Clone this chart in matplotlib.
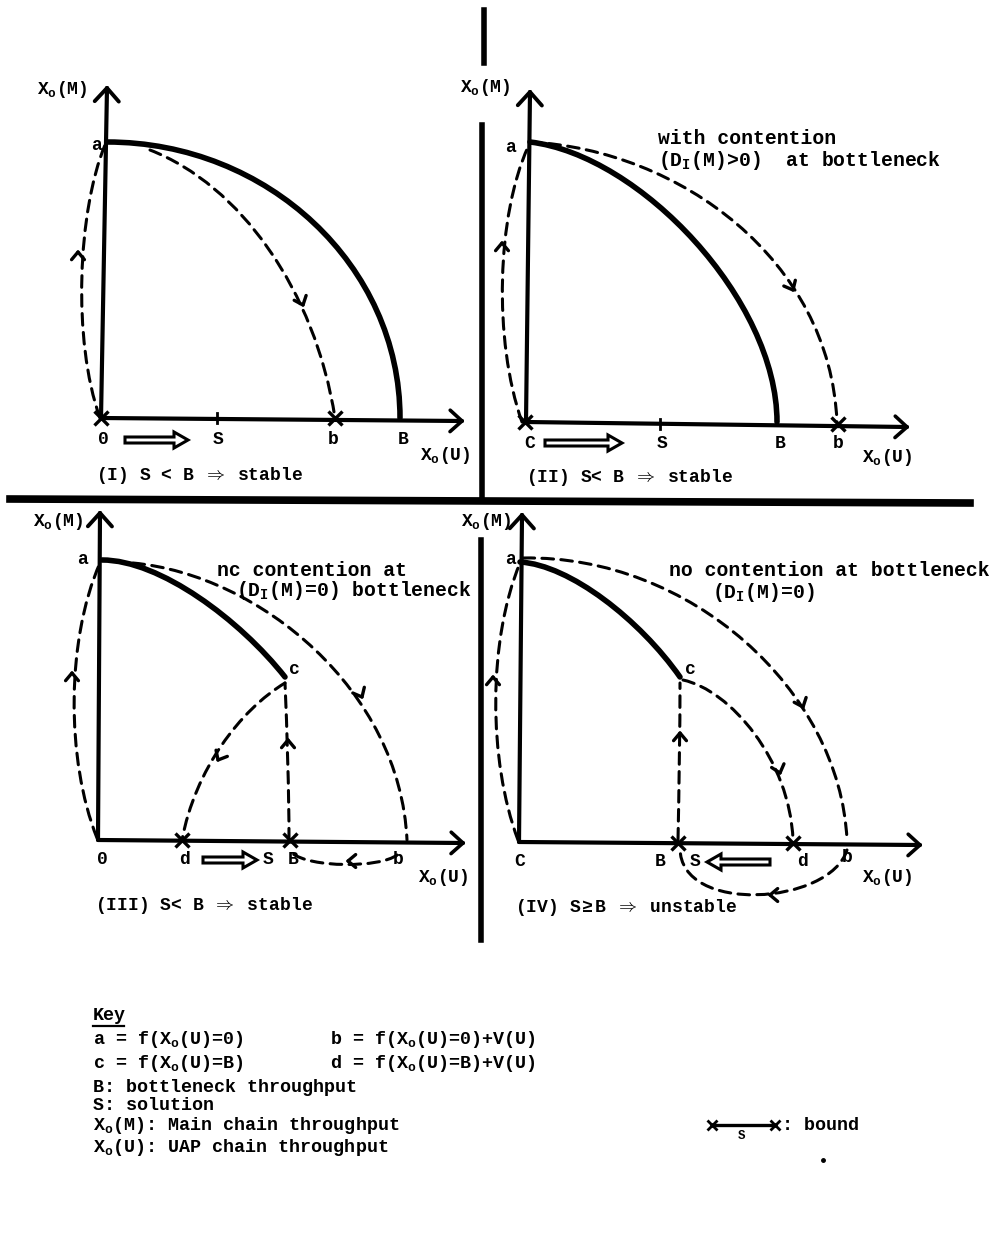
import numpy as np
import matplotlib
matplotlib.use('Agg')
import matplotlib.pyplot as plt
import matplotlib.patches as mpatches
from matplotlib.path import Path

plt.rcParams['font.family'] = ['Liberation Mono', 'DejaVu Sans Mono']
plt.rcParams['font.weight'] = 'bold'
plt.rcParams['mathtext.fontset'] = 'custom'
plt.rcParams['mathtext.rm'] = 'Liberation Mono:bold'
plt.rcParams['mathtext.it'] = 'Liberation Mono:bold'
plt.rcParams['mathtext.bf'] = 'Liberation Mono:bold'

# the page is laid out in scan pixels, x to the right, y downwards
# quadrant axes: origin, tip of x axis, tip of y axis
origins = [(101, 418), (526, 422), (98, 840), (519, 842)]
x_tips = [(462, 421), (907, 427), (463, 843), (920, 845)]
y_tips = [(107, 88), (530, 92), (100, 513), (522, 515)]

# solid frontier (cubic bezier control points)
frontier_I = [(107, 142), (268, 142), (400, 266), (400, 418)]
frontier_II = [(530, 142), (640, 155), (777, 300), (777, 422)]
frontier_III = [(102, 560), (160, 560), (240, 620), (285, 677)]
frontier_IV = [(520, 562), (570, 565), (640, 620), (680, 677)]

# dashed trajectories
arc_I = [(100, 418), (72, 340), (78, 210), (105, 145)]
arc_II = [(522, 422), (493, 340), (497, 215), (528, 147)]
arc_III = [(97, 838), (66, 760), (66, 640), (100, 563)]
arc_IV = [(518, 840), (488, 760), (488, 640), (520, 563)]
outer_I = [(150, 150), (240, 185), (315, 290), (335, 418)]
outer_II = [(530, 142), (680, 150), (830, 260), (837, 422)]
outer_III = [(133, 563), (260, 575), (400, 690), (407, 840)]
outer_IV = [(523, 558), (690, 555), (840, 690), (847, 840)]
back_III = [(397, 855), (380, 868), (310, 868), (292, 853)]
back_IV = [(847, 850), (830, 905), (680, 915), (680, 848)]
drop_III = [(285, 683), (240, 710), (195, 770), (182, 840)]
drop_IV = [(683, 680), (730, 690), (790, 760), (793, 840)]
rise_III = [(289, 840), (289, 790), (287, 730), (285, 683)]
rise_IV = [(678, 840), (679, 790), (680, 730), (680, 683)]

# small arrowheads on the dashed paths: x, y, dx, dy
heads_x = [78, 303, 502, 793, 72, 362, 218, 288, 348, 493, 803, 780, 680, 770]
heads_y = [252, 305, 243, 290, 673, 697, 760, 740, 861, 677, 707, 773, 733, 895]
heads_dx = [0, 0.4, 0, 0.5, 0, 0.5, -0.55, 0, -1, 0, 0.4, 0.3, 0, -1]
heads_dy = [-1, 1, -1, 1, -1, 1, 1, -1, 0, -1, 1, 1, -1, 0]

# crosses on the axes
cross_x = [101, 335, 525, 838, 182, 290, 678, 793]
cross_y = [418, 418, 422, 424, 840, 840, 843, 843]

# hollow double arrows: start x, end x, y
dbl_x0 = [125, 545, 203, 770]
dbl_x1 = [188, 622, 257, 707]
dbl_y = [440, 443, 860, 862]

# axis labels along x
tick_text = ['0', 'S', 'b', 'B', 'C', 'S', 'B', 'b',
             '0', 'd', 'S', 'B', 'b', 'C', 'B', 'S', 'd', 'b']
tick_x = [103, 218, 333, 403, 530, 662, 780, 838,
          102, 185, 268, 293, 398, 520, 660, 695, 802, 847]
tick_y = [440, 440, 440, 440, 443, 443, 443, 443,
          860, 860, 860, 860, 860, 862, 862, 862, 862, 857]

captions = [r'(I) S < B $\Rightarrow$ stable', r'(II) S< B $\Rightarrow$ stable',
            r'(III) S< B $\Rightarrow$ stable', r'(IV) S$\geq$B $\Rightarrow$ unstable']
caption_x = [96, 526, 95, 515]
caption_y = [475, 477, 905, 907]

key_lines = [r'a = f(X$_{\rm o}$(U)=0)', r'c = f(X$_{\rm o}$(U)=B)',
             'B: bottleneck throughput', 'S: solution',
             r'X$_{\rm o}$(M): Main chain throughput',
             r'X$_{\rm o}$(U): UAP chain throughput']
key_y = [1040, 1063, 1087, 1105, 1125, 1148]
key_right = [r'b = f(X$_{\rm o}$(U)=0)+V(U)', r'd = f(X$_{\rm o}$(U)=B)+V(U)']

fig = plt.figure(figsize=(9.93, 12.54), dpi=100)
ax = fig.add_axes([0, 0, 1, 1])
ax.set_xlim(0, 993)
ax.set_ylim(1254, 0)
ax.axis('off')

DASH = (0, (3.8, 2.4))


def bez(pts, lw=2.2, ls=DASH):
    codes = [Path.MOVETO, Path.CURVE4, Path.CURVE4, Path.CURVE4]
    ax.add_patch(mpatches.PathPatch(Path(pts, codes), fill=False,
                                    lw=lw, ls=ls, ec='black', capstyle='round'))


def chevron(x, y, dx, dy, size=10, ang=40, lw=2.4):
    d = np.array([dx, dy], float)
    d = d / np.hypot(*d)
    for s in (1, -1):
        a = np.radians(s * ang)
        r = np.array([[np.cos(a), -np.sin(a)], [np.sin(a), np.cos(a)]])
        w = r @ (-d) * size
        ax.plot([x, x + w[0]], [y, y + w[1]], color='black', lw=lw,
                solid_capstyle='round')


# page dividers
ax.plot([484, 484], [10, 63], color='black', lw=4)
ax.plot([482, 482], [125, 500], color='black', lw=4)
ax.plot([481, 481], [540, 940], color='black', lw=4)
ax.plot([10, 970], [499, 503], color='black', lw=5.5)

for (ox, oy), (xx, xy), (yx, yy) in zip(origins, x_tips, y_tips):
    ax.plot([ox, xx], [oy, xy], color='black', lw=3, solid_capstyle='round')
    ax.plot([ox, yx], [oy, yy], color='black', lw=3, solid_capstyle='round')
    chevron(xx, xy, xx - ox, xy - oy, size=16, ang=42, lw=2.6)
    chevron(yx, yy, yx - ox, yy - oy, size=18, ang=42, lw=2.8)

for f in [frontier_I, frontier_II, frontier_III, frontier_IV]:
    bez(f, lw=4, ls='-')

for p in [arc_I, arc_II, arc_III, arc_IV, outer_I, outer_II, outer_III, outer_IV,
          back_III, back_IV, drop_III, drop_IV, rise_III, rise_IV]:
    bez(p)

for x, y, dx, dy in zip(heads_x, heads_y, heads_dx, heads_dy):
    chevron(x, y, dx, dy)

ax.plot(cross_x, cross_y, ls='none', marker='x', ms=10, mew=2.4, color='black')
# S ticks on the axes of I and II
ax.plot([217, 217], [413, 423], color='black', lw=2)
ax.plot([660, 660], [419, 429], color='black', lw=2)

for x0, x1, y in zip(dbl_x0, dbl_x1, dbl_y):
    ax.add_patch(mpatches.FancyArrow(x0, y, x1 - x0, 0, width=6, head_width=16,
                                     head_length=14, length_includes_head=True,
                                     fc='white', ec='black', lw=2.2))

for t, x, y in zip(tick_text, tick_x, tick_y):
    ax.text(x, y, t, ha='center', va='center', fontsize=13)

# point labels a and c
for t, x, y in [('a', 97, 145), ('a', 510, 148), ('a', 82, 559), ('a', 510, 560),
                ('c', 294, 670), ('c', 690, 670)]:
    ax.text(x, y, t, ha='center', va='center', fontsize=13)

for x, y in [(62, 90), (485, 88), (58, 522), (486, 522)]:
    ax.text(x, y, r'X$_{\rm o}$(M)', ha='center', va='center', fontsize=13)
for x, y in [(445, 455), (887, 457), (443, 877), (887, 877)]:
    ax.text(x, y, r'X$_{\rm o}$(U)', ha='center', va='center', fontsize=13)

for t, x, y in zip(captions, caption_x, caption_y):
    ax.text(x, y, t, ha='left', va='center', fontsize=13)

# annotations
ax.text(658, 138, 'with contention', ha='left', va='center', fontsize=14.2)
ax.text(658, 160, r'(D$_{\rm I}$(M)>0)  at bottleneck', ha='left', va='center',
        fontsize=14.2)
ax.text(217, 570, 'nc contention at', ha='left', va='center', fontsize=14.2)
ax.text(236, 591, r'(D$_{\rm I}$(M)=0) bottleneck', ha='left', va='center',
        fontsize=14.2)
ax.text(669, 571, 'no contention at bottleneck', ha='left', va='center',
        fontsize=14.2)
ax.text(712, 593, r'(D$_{\rm I}$(M)=0)', ha='left', va='center', fontsize=14.2)

# key
ax.text(93, 1015, 'Key', ha='left', va='center', fontsize=13.2)
ax.plot([93, 124], [1026, 1026], color='black', lw=1.6)
for t, y in zip(key_lines, key_y):
    ax.text(93, y, t, ha='left', va='center', fontsize=13.2)
for t, y in zip(key_right, key_y[:2]):
    ax.text(330, y, t, ha='left', va='center', fontsize=13.2)

# bound symbol
ax.plot([712, 775], [1125, 1125], color='black', lw=2.4)
ax.plot([712, 775], [1125, 1125], ls='none', marker='x', ms=7, mew=2, color='black')
ax.text(742, 1136, 'S', ha='center', va='center', fontsize=9)
ax.text(782, 1125, ': bound', ha='left', va='center', fontsize=13.2)
ax.plot([823], [1160], marker='o', ms=2.5, color='black')

fig.savefig('out.png', dpi=100)
